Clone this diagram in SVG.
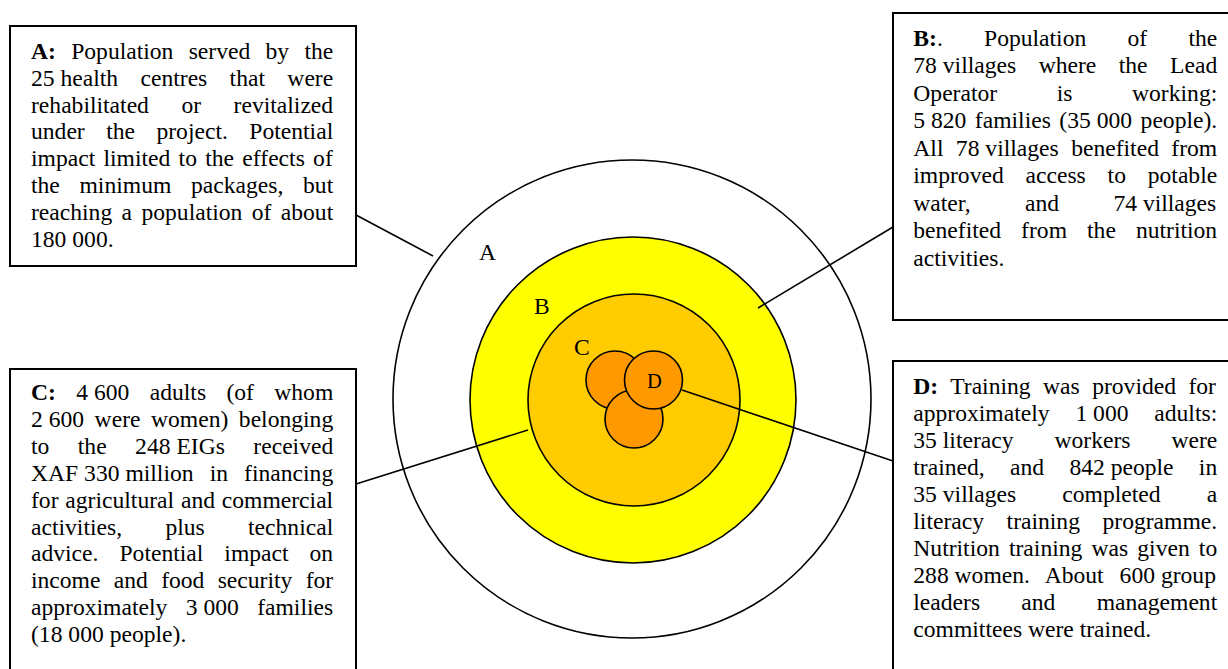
<svg xmlns="http://www.w3.org/2000/svg" width="1228" height="669" viewBox="0 0 1228 669">
<style>
text{font-family:"Liberation Serif","Times New Roman",serif;font-size:23.6px;fill:#000}
.b{font-weight:bold}
.nb{word-spacing:0}
.box{fill:#fff;stroke:#000;stroke-width:2}
.ring{stroke:#000;stroke-width:1.6}
.conn line{stroke:#000;stroke-width:1.6}
.lbl{font-size:23.6px}
</style>
<rect width="1228" height="669" fill="#fff"/>
<g id="target">
<circle class="ring" cx="632" cy="399" r="239" fill="#fff"/>
<circle class="ring" cx="633" cy="400" r="163" fill="#ffff00"/>
<circle class="ring" cx="634" cy="400" r="106" fill="#ffcc00"/>
<circle class="ring" cx="615" cy="380" r="29" fill="#ff9900"/>
<circle class="ring" cx="634" cy="419" r="29" fill="#ff9900"/>
<circle class="ring" cx="653.5" cy="380" r="29" fill="#ff9900"/>
<text class="lbl" x="479" y="260">A</text>
<text class="lbl" x="534" y="314">B</text>
<text class="lbl" x="574" y="355">C</text>
<text x="647" y="388" style="font-size:20.5px">D</text>
</g>
<g id="connectors" class="conn">
<line x1="356" y1="215" x2="433" y2="256"/>
<line x1="893" y1="227" x2="758" y2="308"/>
<line x1="356" y1="484" x2="528" y2="430"/>
<line x1="682" y1="390" x2="893" y2="461"/>
</g>
<g id="node-A">
<rect class="box" x="10" y="26" width="346" height="240"/>
<text x="31" y="59" style="word-spacing:9.37px"><tspan class="b">A:</tspan> Population served by the</text>
<text x="31" y="85.8" style="word-spacing:16.44px"><tspan class="nb">25&#160;health</tspan> centres that were</text>
<text x="31" y="112.6" style="word-spacing:26.6px">rehabilitated or revitalized</text>
<text x="31" y="139.4" style="word-spacing:15.56px">under the project. Potential</text>
<text x="31" y="166.2" style="word-spacing:2.39px">impact limited to the effects of</text>
<text x="31" y="193" style="word-spacing:13.8px">the minimum packages, but</text>
<text x="31" y="219.8" style="word-spacing:3.48px">reaching a population of about</text>
<text x="31" y="246.6">180&#160;000.</text>
</g>
<g id="node-B">
<rect class="box" x="893" y="13" width="345" height="307"/>
<text x="913.3" y="45.5" style="word-spacing:35.34px"><tspan class="b">B:</tspan>. Population of the</text>
<text x="913.3" y="73" style="word-spacing:16.57px"><tspan class="nb">78&#160;villages</tspan> where the Lead</text>
<text x="913.3" y="100.5" style="word-spacing:53.68px">Operator is working:</text>
<text x="913.3" y="128" style="word-spacing:2.58px"><tspan class="nb">5&#160;820</tspan> families <tspan class="nb">(35&#160;000</tspan> people).</text>
<text x="913.3" y="155.5" style="word-spacing:6.51px">All <tspan class="nb">78&#160;villages</tspan> benefited from</text>
<text x="913.3" y="183" style="word-spacing:15.91px">improved access to potable</text>
<text x="913.3" y="210.5" style="word-spacing:48.44px">water, and <tspan class="nb">74&#160;villages</tspan></text>
<text x="913.3" y="238" style="word-spacing:14.15px">benefited from the nutrition</text>
<text x="913.3" y="265.5">activities.</text>
</g>
<g id="node-C">
<rect class="box" x="10" y="369" width="346" height="320"/>
<text x="31" y="400" style="word-spacing:14.45px"><tspan class="b">C:</tspan> <tspan class="nb">4&#160;600</tspan> adults (of whom</text>
<text x="31" y="426.9" style="word-spacing:4.63px"><tspan class="nb">2&#160;600</tspan> were women) belonging</text>
<text x="31" y="453.8" style="word-spacing:22.56px">to the <tspan class="nb">248&#160;EIGs</tspan> received</text>
<text x="31" y="480.7" style="word-spacing:10.2px"><tspan class="nb">XAF&#160;330&#160;million</tspan> in financing</text>
<text x="31" y="507.6" style="word-spacing:0.93px">for agricultural and commercial</text>
<text x="31" y="534.5" style="word-spacing:37.42px">activities, plus technical</text>
<text x="31" y="561.4" style="word-spacing:15.11px">advice. Potential impact on</text>
<text x="31" y="588.3" style="word-spacing:7.41px">income and food security for</text>
<text x="31" y="615.2" style="word-spacing:12.51px">approximately <tspan class="nb">3&#160;000</tspan> families</text>
<text x="31" y="642.1">(18&#160;000 people).</text>
</g>
<g id="node-D">
<rect class="box" x="893" y="361" width="345" height="330"/>
<text x="913.3" y="393.5" style="word-spacing:6.53px"><tspan class="b">D:</tspan> Training was provided for</text>
<text x="913.3" y="420.5" style="word-spacing:19.91px">approximately <tspan class="nb">1&#160;000</tspan> adults:</text>
<text x="913.3" y="447.5" style="word-spacing:35.03px"><tspan class="nb">35&#160;literacy</tspan> workers were</text>
<text x="913.3" y="474.5" style="word-spacing:19.4px">trained, and <tspan class="nb">842&#160;people</tspan> in</text>
<text x="913.3" y="501.5" style="word-spacing:40.24px"><tspan class="nb">35&#160;villages</tspan> completed a</text>
<text x="913.3" y="528.5" style="word-spacing:16.65px">literacy training programme.</text>
<text x="913.3" y="555.5" style="word-spacing:3.24px">Nutrition training was given to</text>
<text x="913.3" y="582.5" style="word-spacing:10.08px"><tspan class="nb">288&#160;women.</tspan> About <tspan class="nb">600&#160;group</tspan></text>
<text x="913.3" y="609.5" style="word-spacing:35.35px">leaders and management</text>
<text x="913.3" y="636.5">committees were trained.</text>
</g>
</svg>
